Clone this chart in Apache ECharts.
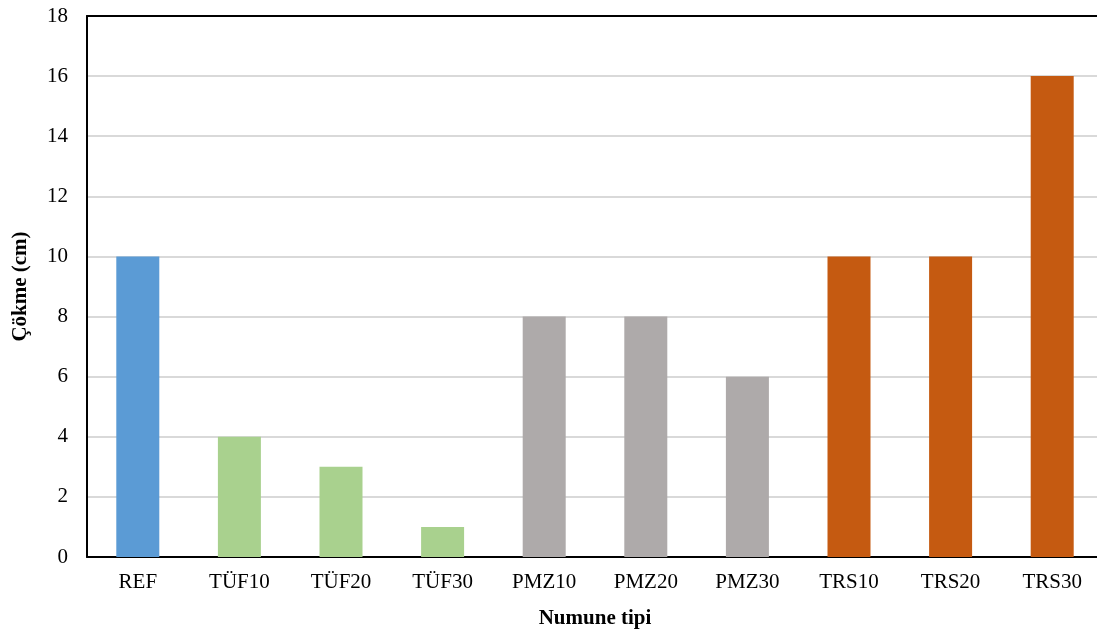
<!DOCTYPE html>
<html><head><meta charset="utf-8">
<script src="https://cdn.jsdelivr.net/npm/echarts@6/dist/echarts.min.js"></script>
<style>html,body{margin:0;padding:0;background:#fff}#c{width:1097px;height:632px}</style>
</head><body><div id="c"></div>
<script>
const categories = ['REF','TÜF10','TÜF20','TÜF30','PMZ10','PMZ20','PMZ30','TRS10','TRS20','TRS30'];
const values = [10,4,3,1,8,8,6,10,10,16];
const colors = ['#5B9BD5','#A9D18E','#A9D18E','#A9D18E','#AEAAAA','#AEAAAA','#AEAAAA','#C55A11','#C55A11','#C55A11'];
const yTicks = {min:0,max:18,interval:2};
const chart = echarts.init(document.getElementById('c'));
const font = 'Liberation Serif';
chart.setOption({
  animation:false,
  grid:{left:87,top:16,width:1016,height:541,outerBoundsMode:'none',containLabel:false},
  xAxis:[{type:'category',data:categories,name:'Numune tipi',nameLocation:'middle',nameGap:51,
    nameTextStyle:{fontFamily:font,fontSize:21,fontWeight:'bold',color:'#000'},
    axisLine:{lineStyle:{color:'#000',width:2}},axisTick:{show:false},
    axisLabel:{fontFamily:font,fontSize:21,color:'#000',margin:15}},
    {type:'category',data:categories,position:'top',axisLine:{show:true,onZero:false,lineStyle:{color:'#000',width:2}},
    axisTick:{show:false},axisLabel:{show:false},splitLine:{show:false}}],
  yAxis:{type:'value',min:yTicks.min,max:yTicks.max,interval:yTicks.interval,name:'Çökme (cm)',nameLocation:'middle',nameGap:56,
    nameTextStyle:{fontFamily:font,fontSize:21,fontWeight:'bold',color:'#000'},
    axisLine:{show:true,lineStyle:{color:'#000',width:2}},axisTick:{show:false},
    splitLine:{lineStyle:{color:'#D9D9D9',width:2}},
    axisLabel:{fontFamily:font,fontSize:21,color:'#000',margin:19}},
  series:[{type:'bar',xAxisIndex:0,barWidth:43,data:values.map((v,i)=>({value:v,itemStyle:{color:colors[i]}}))}]
});
</script></body></html>
